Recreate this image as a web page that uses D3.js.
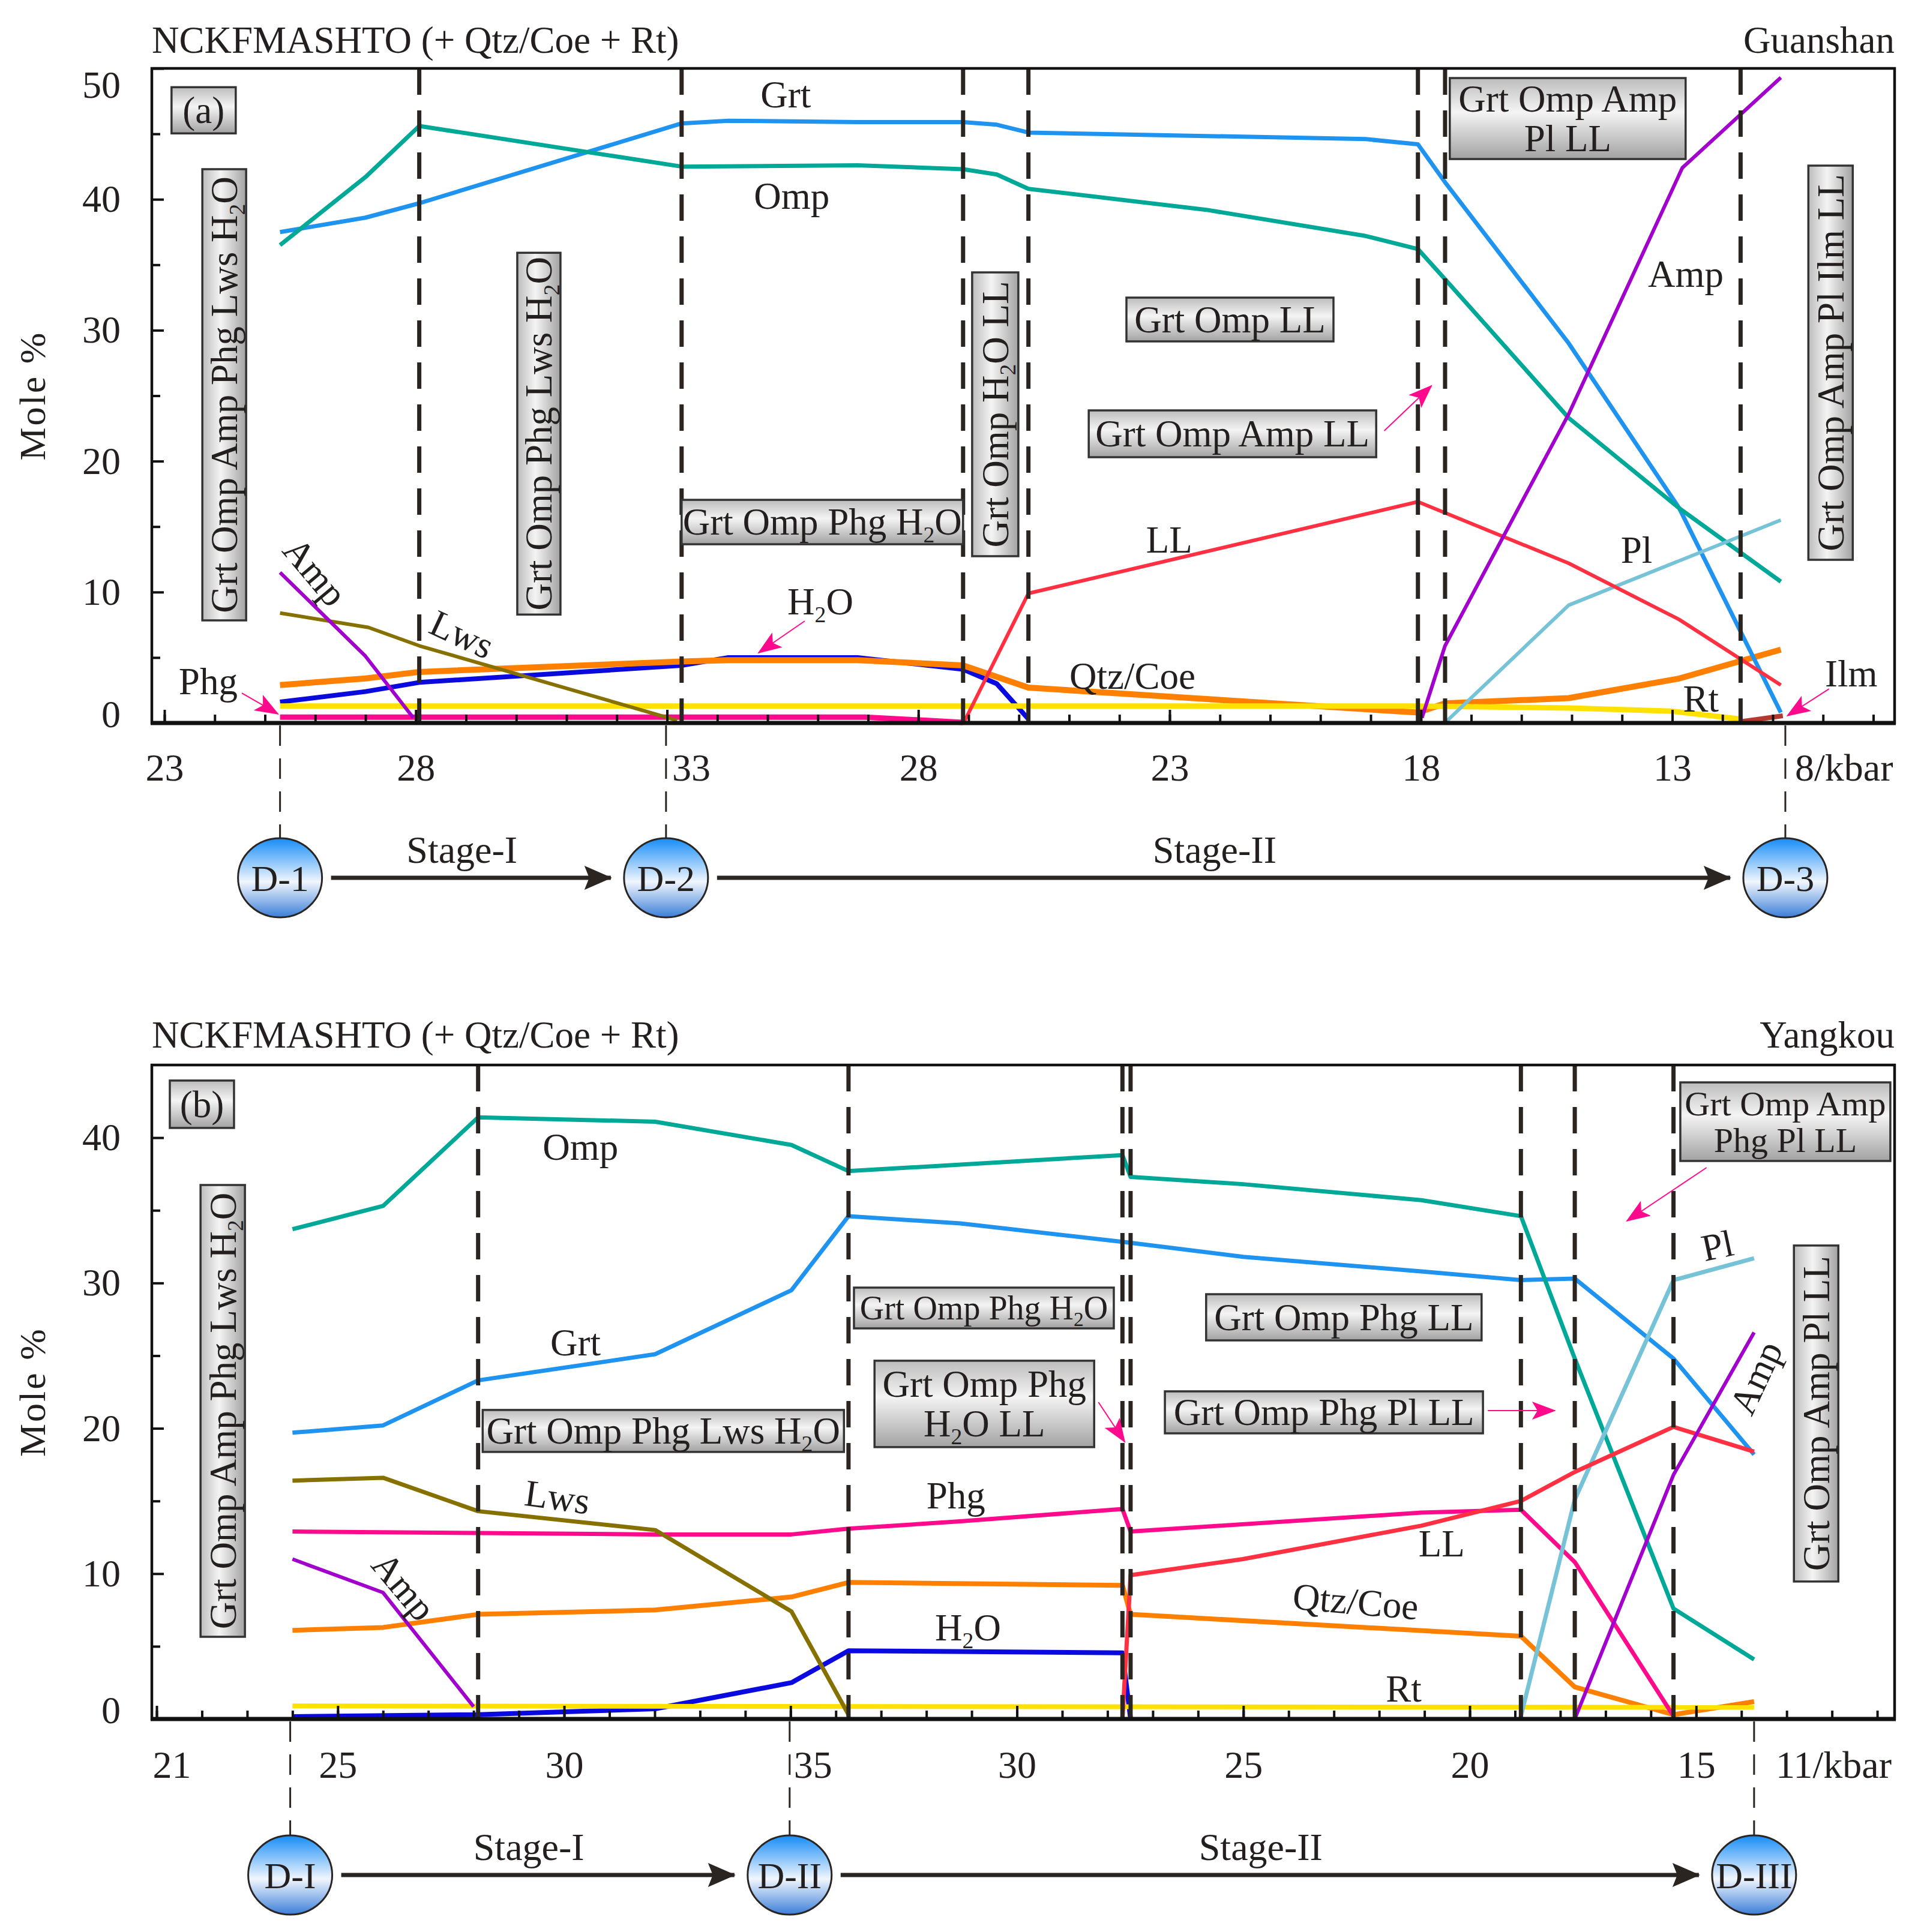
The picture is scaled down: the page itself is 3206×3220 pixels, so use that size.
<!DOCTYPE html>
<html>
<head>
<meta charset="utf-8">
<title>Mole % along the P path</title>
<script src="https://cdn.jsdelivr.net/npm/d3@7/dist/d3.min.js"></script>
<style>
  body { margin: 0; background: #fff; }
  text { font-family: "Liberation Serif", "Times New Roman", serif; fill: #231f1e; }
</style>
</head>
<body>
<svg id="chart" width="3206" height="3220"></svg>
<script>
// x = distance travelled along the pressure path (kbar), y = mole %

// ---- (a) Guanshan ----
const ticksA = ['23', '28', '33', '28', '23', '18', '13'];
const ticksAU = [0, 5, 10, 15, 20, 25, 30];
const boundsA = [5.07, 10.29, 15.89, 17.19, 24.94, 25.48, 31.36];
const stagesA = ['D-1', 'D-2', 'D-3'];
const stagesAU = [2.3, 9.98, 32.25];

const grtA = [[2.3, 37.5], [4.0, 38.6], [5.07, 39.7], [10.29, 45.8], [11.22, 46.0], [13.79, 45.9], [15.89, 45.9], [16.56, 45.7], [17.19, 45.1], [23.9, 44.6], [24.94, 44.2], [25.48, 41.3], [27.94, 29.0], [30.14, 16.4], [32.16, 0.8]];
const ompA = [[2.3, 36.5], [4.0, 41.7], [5.07, 45.6], [10.29, 42.5], [13.79, 42.6], [15.89, 42.3], [16.56, 41.9], [17.19, 40.8], [20.73, 39.2], [23.9, 37.2], [24.94, 36.2], [25.48, 33.9], [27.94, 23.3], [30.14, 16.4], [32.16, 10.8]];
const llA = [[15.9, 0], [17.19, 9.9], [24.94, 16.9], [27.94, 12.2], [30.14, 7.9], [32.16, 2.9]];
const ampA = [[2.3, 11.5], [4.0, 5.1], [4.95, 0.4], null, [25.02, 0.4], [25.48, 5.9], [27.94, 23.6], [30.2, 42.4], [32.16, 49.3]];
const plA = [[25.5, 0.1], [27.94, 9.0], [32.16, 15.5]];
const qtzA = [[2.3, 2.9], [4.0, 3.4], [5.07, 3.9], [10.29, 4.7], [11.22, 4.8], [13.79, 4.8], [15.89, 4.4], [17.19, 2.7], [24.94, 0.8], [25.48, 1.5], [27.94, 1.9], [30.14, 3.4], [32.16, 5.6]];
const h2oA = [[2.3, 1.6], [4.0, 2.4], [5.07, 3.1], [10.29, 4.4], [11.22, 5.0], [13.79, 5.0], [15.89, 4.1], [16.56, 3.0], [17.19, 0.3]];
const phgA = [[2.3, 0.45], [13.94, 0.45], [15.89, 0.05]];
const lwsA = [[2.3, 8.4], [4.06, 7.3], [5.07, 5.9], [10.2, 0.2]];
const rtA = [[2.3, 1.3], [24.94, 1.3], [27.94, 1.15], [30.0, 0.9], [31.36, 0.3]];
const ilmA = [[31.36, 0.1], [32.2, 0.55]];

// ---- (b) Yangkou ----
const ticksB = ['21', '25', '30', '35', '30', '25', '20', '15'];
const ticksBU = [0, 4, 9, 14, 19, 24, 29, 34];
const boundsB = [7.1, 15.28, 21.33, 21.51, 30.13, 31.32, 33.5];
const stagesB = ['D-I', 'D-II', 'D-III'];
const stagesBU = [2.95, 13.98, 35.28];

const ompB = [[3.0, 33.7], [5.0, 35.3], [7.1, 41.4], [11.01, 41.1], [14.02, 39.5], [15.28, 37.7], [21.33, 38.8], [21.51, 37.3], [23.99, 36.8], [27.93, 35.7], [30.13, 34.6], [31.32, 24.8], [33.5, 7.6], [35.28, 4.1]];
const grtB = [[3.0, 19.7], [5.0, 20.2], [7.1, 23.3], [11.01, 25.1], [14.02, 29.5], [15.28, 34.6], [17.75, 34.1], [21.42, 32.8], [24.0, 31.8], [27.93, 30.8], [30.13, 30.2], [31.32, 30.3], [33.5, 24.8], [35.28, 18.2]];
const lwsB = [[3.0, 16.4], [5.0, 16.6], [7.1, 14.3], [11.01, 13.0], [14.02, 7.4], [15.28, 0.3]];
const phgB = [[3.0, 12.9], [7.1, 12.8], [11.01, 12.7], [14.02, 12.7], [15.28, 13.1], [17.75, 13.6], [21.33, 14.45], [21.51, 12.9], [27.93, 14.2], [30.13, 14.4], [31.32, 10.8], [33.5, 0.2]];
const ampB = [[3.0, 11.0], [5.0, 8.7], [7.0, 0.85], null, [31.32, 0], [33.5, 16.8], [35.28, 26.6]];
const qtzB = [[3.0, 6.1], [5.0, 6.3], [7.1, 7.2], [11.01, 7.5], [14.02, 8.4], [15.28, 9.4], [21.33, 9.2], [21.51, 7.2], [30.13, 5.7], [31.32, 2.2], [33.5, 0.3], [35.28, 1.2]];
const h2oB = [[3.0, 0.17], [7.1, 0.3], [11.01, 0.7], [14.02, 2.5], [15.28, 4.7], [21.33, 4.55], [21.51, 0]];
const llB = [[21.33, 0], [21.51, 9.9], [23.99, 11.0], [27.93, 13.3], [30.13, 15.0], [31.32, 17.0], [33.5, 20.1], [35.28, 18.4]];
const plB = [[30.13, 0.2], [31.32, 15.1], [33.5, 30.2], [35.28, 31.7]];
const rtB = [[3.0, 0.9], [35.28, 0.8]];

// ---- styling ----
const colors = {
  Grt: '#1f93f0', Omp: '#00a997', LL: '#ff3041', Amp: '#a100cd', Pl: '#76c2d6',
  Qtz: '#ff8000', H2O: '#0a0ae0', Phg: '#ff0a8c', Lws: '#867100', Rt: '#ffe100', Ilm: '#b43a30'
};
const widthA = { Grt: 7, Omp: 7, LL: 6, Amp: 6, Pl: 6, Qtz: 10, H2O: 8, Phg: 9, Lws: 6, Rt: 9, Ilm: 8 };
const widthB = { Grt: 7, Omp: 7, LL: 7, Amp: 6, Pl: 7, Qtz: 8, H2O: 8, Phg: 7, Lws: 7, Rt: 8 };
const DARK = '#2b2522', PINK = '#ff0a8c';

const svg = d3.select('#chart');
svg.append('rect').attr('width', 3206).attr('height', 3220).attr('fill', '#fff');
const defs = svg.append('defs');

const boxGrad = defs.append('linearGradient').attr('id', 'boxg').attr('x1', 0).attr('y1', 0).attr('x2', 0).attr('y2', 1);
[[0, '#bcbcbc'], [0.42, '#f4f4f4'], [1, '#a2a2a2']].forEach(([o, c]) => boxGrad.append('stop').attr('offset', o).attr('stop-color', c));
const ballGrad = defs.append('linearGradient').attr('id', 'ballg').attr('x1', 0).attr('y1', 0).attr('x2', 0).attr('y2', 1);
[[0, '#168cf7'], [0.55, '#f1f6fd'], [1, '#3b7ed8']].forEach(([o, c]) => ballGrad.append('stop').attr('offset', o).attr('stop-color', c));

defs.append('marker').attr('id', 'pinkHead').attr('markerUnits', 'userSpaceOnUse')
  .attr('viewBox', '0 0 40 30').attr('refX', 38).attr('refY', 15)
  .attr('markerWidth', 40).attr('markerHeight', 30).attr('orient', 'auto')
  .append('path').attr('d', 'M0,0L40,15L0,30L9,15Z').attr('fill', PINK);
defs.append('marker').attr('id', 'darkHead').attr('markerUnits', 'userSpaceOnUse')
  .attr('viewBox', '0 0 46 40').attr('refX', 44).attr('refY', 20)
  .attr('markerWidth', 46).attr('markerHeight', 40).attr('orient', 'auto')
  .append('path').attr('d', 'M0,0L46,20L0,40L8,20Z').attr('fill', DARK);

// "H_2O" -> H, subscript 2, O
function rich(t, str, fs) {
  str.split(/_(\d)/).forEach((part, i) => {
    if (!part) return;
    if (i % 2) t.append('tspan').attr('font-size', fs * 0.6).attr('dy', fs * 0.2).text(part);
    else t.append('tspan').attr('dy', i ? -fs * 0.2 : null).text(part);
  });
}

function drawPanel(p) {
  const g = svg.append('g');
  const x = d3.scaleLinear().domain([0, 1]).range([p.x0, p.x0 + p.unit]);
  const y = d3.scaleLinear().domain([0, p.ymax]).range([p.bottom, p.top]);

  // titles
  g.append('text').attr('x', p.left).attr('y', p.titleY).attr('font-size', 63).text('NCKFMASHTO (+ Qtz/Coe + Rt)');
  g.append('text').attr('x', p.right).attr('y', p.titleY).attr('font-size', 63).attr('text-anchor', 'end').text(p.site);
  g.append('text').attr('transform', `translate(75,${(p.top + p.bottom) / 2}) rotate(-90)`)
    .attr('font-size', 62).attr('text-anchor', 'middle').attr('letter-spacing', 3).text('Mole %');

  // series
  const line = d3.line().defined(d => d).x(d => x(d[0])).y(d => y(d[1]));
  g.append('g').selectAll('path').data(p.series).join('path')
    .attr('d', d => line(d[1])).attr('fill', 'none')
    .attr('stroke', d => colors[d[0]]).attr('stroke-width', d => p.widths[d[0]])
    .attr('stroke-linejoin', 'round');

  // phase-field boundaries
  g.append('g').selectAll('line').data(p.bounds).join('line')
    .attr('x1', d => x(d)).attr('x2', d => x(d)).attr('y1', p.top).attr('y2', p.bottom)
    .attr('stroke', DARK).attr('stroke-width', 7).attr('stroke-dasharray', '44 26');

  // frame
  g.append('rect').attr('x', p.left).attr('y', p.top).attr('width', p.right - p.left).attr('height', p.bottom - p.top)
    .attr('fill', 'none').attr('stroke', '#111').attr('stroke-width', 4.5);
  g.append('line').attr('x1', p.left - 2).attr('x2', p.right + 2).attr('y1', p.bottom).attr('y2', p.bottom)
    .attr('stroke', '#111').attr('stroke-width', 7);

  const tickStyle = s => {
    s.select('.domain').remove();
    s.selectAll('.tick line').attr('stroke', '#111').attr('stroke-width', 4);
    s.attr('font-family', null).attr('font-size', 64);
    s.selectAll('.tick text').attr('fill', '#231f1e');
  };
  // x ticks (inward)
  g.append('g').attr('transform', `translate(0,${p.bottom})`)
    .call(d3.axisBottom(x).tickValues(d3.range(0, p.nMinorX + 1)).tickSize(-14).tickFormat('')).call(tickStyle);
  g.append('g').attr('transform', `translate(0,${p.bottom})`)
    .call(d3.axisBottom(x).tickValues(p.ticksU).tickSize(-22).tickFormat('')).call(tickStyle);
  g.append('g').attr('transform', `translate(0,${p.bottom})`)
    .call(d3.axisBottom(x).tickValues(p.ticksU).tickSize(0).tickPadding(p.labelPad).tickFormat((d, i) => p.ticks[i]))
    .call(tickStyle)
    .call(s => s.selectAll('.tick text').attr('dx', (d, i) => p.labelNudge[i] || 0));
  g.append('text').attr('x', x(p.stagesU[2]) + p.endGap).attr('y', p.bottom + p.labelPad + 45)
    .attr('font-size', 64).text(p.endLabel);

  // y ticks (inward)
  g.append('g').attr('transform', `translate(${p.left},0)`)
    .call(d3.axisLeft(y).tickValues(d3.range(5, p.ymax, 10)).tickSize(-14).tickFormat('')).call(tickStyle);
  g.append('g').attr('transform', `translate(${p.left},0)`)
    .call(d3.axisLeft(y).tickValues(d3.range(0, p.ymax + 1, 10)).tickSize(-20).tickPadding(52).tickFormat(d3.format('d')))
    .call(tickStyle)
    .call(s => s.selectAll('.tick text').attr('dy', d => d === 0 ? '0.1em' : d === 50 ? '0.75em' : '0.32em'));

  // grey phase-field boxes
  p.boxes.forEach(b => {
    const fs = b.fs || 63;
    const bg = g.append('g').attr('transform', `translate(${x(b.u)},${y(b.v)})` + (b.rot ? ' rotate(-90)' : ''));
    const L = b.rot ? b.h : b.w, T = b.rot ? b.w : b.h;
    bg.append('rect').attr('x', -L / 2).attr('y', -T / 2).attr('width', L).attr('height', T)
      .attr('fill', 'url(#boxg)').attr('stroke', '#333').attr('stroke-width', 3.5);
    b.t.forEach((ln, i) => {
      const off = (i - (b.t.length - 1) / 2) * fs * 1.05;
      rich(bg.append('text').attr('x', 0).attr('y', off + fs * 0.34).attr('font-size', fs).attr('text-anchor', 'middle'), ln, fs);
    });
  });

  // pink pointer arrows
  g.append('g').selectAll('line').data(p.arrows).join('line')
    .attr('x1', d => x(d[0])).attr('y1', d => y(d[1])).attr('x2', d => x(d[2])).attr('y2', d => y(d[3]))
    .attr('stroke', PINK).attr('stroke-width', 2).attr('marker-end', 'url(#pinkHead)');

  // line labels
  p.labels.forEach(l => {
    const t = g.append('text').attr('transform', `translate(${x(l.u)},${y(l.v)}) rotate(${l.r || 0})`)
      .attr('y', 63 * 0.34).attr('font-size', 63).attr('text-anchor', 'middle');
    rich(t, l.t, 63);
  });

  // stage markers below the axis
  const cy = p.circleY, ry = 66, rx = 70;
  g.append('g').selectAll('line').data(p.stagesU).join('line')
    .attr('x1', d => x(d)).attr('x2', d => x(d)).attr('y1', p.bottom + 4).attr('y2', cy - ry)
    .attr('stroke', DARK).attr('stroke-width', 3).attr('stroke-dasharray', '34 21');
  for (let i = 0; i < 2; i++) {
    const x1 = x(p.stagesU[i]) + rx + 15, x2 = x(p.stagesU[i + 1]) - rx - 22;
    g.append('line').attr('x1', x1).attr('x2', x2).attr('y1', cy).attr('y2', cy)
      .attr('stroke', DARK).attr('stroke-width', 7).attr('marker-end', 'url(#darkHead)');
    g.append('text').attr('x', (x1 + x2) / 2 - 15).attr('y', p.stageY).attr('font-size', 64)
      .attr('text-anchor', 'middle').text(i ? 'Stage-II' : 'Stage-I');
  }
  const balls = g.append('g').selectAll('g').data(p.stagesU).join('g')
    .attr('transform', d => `translate(${x(d)},${cy})`);
  balls.append('ellipse').attr('rx', rx).attr('ry', ry).attr('fill', 'url(#ballg)').attr('stroke', DARK).attr('stroke-width', 3);
  balls.append('text').attr('y', 22).attr('font-size', 62).attr('text-anchor', 'middle').text((d, i) => p.stages[i]);
}

drawPanel({
  site: 'Guanshan', left: 253, right: 3157, top: 114, bottom: 1205, x0: 274, unit: 83.75, ymax: 50,
  titleY: 88, labelPad: 51, circleY: 1463, stageY: 1438, nMinorX: 34, endGap: 16,
  ticks: ticksA, ticksU: ticksAU, labelNudge: [0, 0, 40, 0, 0, 0, 0], endLabel: '8/kbar',
  bounds: boundsA, stages: stagesA, stagesU: stagesAU, widths: widthA,
  series: [['H2O', h2oA], ['Qtz', qtzA], ['Rt', rtA], ['Phg', phgA], ['Lws', lwsA], ['Grt', grtA], ['Omp', ompA],
           ['Pl', plA], ['LL', llA], ['Amp', ampA], ['Ilm', ilmA]],
  boxes: [
    { t: ['(a)'], u: 0.78, v: 46.8, w: 107, h: 77 },
    { t: ['Grt Omp Amp Phg Lws H_2O'], u: 1.19, v: 25.07, w: 73, h: 752, rot: true },
    { t: ['Grt Omp Phg Lws H_2O'], u: 7.45, v: 22.1, w: 72, h: 603, rot: true },
    { t: ['Grt Omp Phg H_2O'], u: 13.09, v: 15.35, w: 469, h: 74 },
    { t: ['Grt Omp H_2O LL'], u: 16.53, v: 23.58, w: 77, h: 473, rot: true },
    { t: ['Grt Omp LL'], u: 21.2, v: 30.82, w: 345, h: 73 },
    { t: ['Grt Omp Amp LL'], u: 21.25, v: 22.09, w: 479, h: 78 },
    { t: ['Grt Omp Amp', 'Pl LL'], u: 27.92, v: 46.17, w: 393, h: 135 },
    { t: ['Grt Omp Amp Pl Ilm LL'], u: 33.15, v: 27.52, w: 74, h: 657, rot: true }
  ],
  arrows: [[1.54, 2.29, 2.26, 0.69], [12.74, 7.79, 11.82, 5.36], [24.27, 22.32, 25.21, 25.76], [33.12, 2.61, 32.29, 0.55]],
  labels: [
    { t: 'Grt', u: 12.36, v: 47.98 }, { t: 'Omp', u: 12.48, v: 40.28 }, { t: 'Amp', u: 3.0, v: 11.55, r: 50 },
    { t: 'Lws', u: 5.92, v: 6.78, r: 25 }, { t: 'Phg', u: 0.87, v: 3.2 }, { t: 'H_2O', u: 13.05, v: 9.26 },
    { t: 'LL', u: 19.99, v: 13.98 }, { t: 'Qtz/Coe', u: 19.26, v: 3.6 }, { t: 'Amp', u: 30.27, v: 34.3 },
    { t: 'Pl', u: 29.29, v: 13.2 }, { t: 'Rt', u: 30.57, v: 1.83 }, { t: 'Ilm', u: 33.56, v: 3.76 }
  ]
});

drawPanel({
  site: 'Yangkou', left: 253, right: 3157, top: 1775, bottom: 2865, x0: 261, unit: 75.45, ymax: 45,
  titleY: 1746, labelPad: 53, circleY: 3125, stageY: 3100, nMinorX: 38, endGap: 36,
  ticks: ticksB, ticksU: ticksBU, labelNudge: [25, 0, 0, 37, 0, 0, 0, 0], endLabel: '11/kbar',
  bounds: boundsB, stages: stagesB, stagesU: stagesBU, widths: widthB,
  series: [['H2O', h2oB], ['Qtz', qtzB], ['Rt', rtB], ['Phg', phgB], ['Lws', lwsB], ['Grt', grtB], ['Omp', ompB],
           ['Pl', plB], ['LL', llB], ['Amp', ampB]],
  boxes: [
    { t: ['(b)'], u: 1.0, v: 42.3, w: 107, h: 79 },
    { t: ['Grt Omp Amp Phg Lws H_2O'], u: 1.46, v: 21.2, w: 74, h: 753, rot: true },
    { t: ['Grt Omp Phg Lws H_2O'], u: 11.19, v: 19.82, w: 602, h: 70 },
    { t: ['Grt Omp Phg H_2O'], u: 18.27, v: 28.28, w: 433, h: 68, fs: 56 },
    { t: ['Grt Omp Phg', 'H_2O LL'], u: 18.28, v: 21.68, w: 366, h: 144 },
    { t: ['Grt Omp Phg LL'], u: 26.22, v: 27.64, w: 459, h: 77 },
    { t: ['Grt Omp Phg Pl LL'], u: 25.78, v: 21.1, w: 530, h: 70 },
    { t: ['Grt Omp Amp', 'Phg Pl LL'], u: 35.97, v: 41.1, w: 350, h: 131, fs: 58 },
    { t: ['Grt Omp Amp Pl LL'], u: 36.65, v: 21.02, w: 74, h: 560, rot: true }
  ],
  arrows: [[20.8, 21.8, 21.38, 19.07], [29.4, 21.22, 30.88, 21.22], [34.23, 37.94, 32.47, 34.27]],
  labels: [
    { t: 'Omp', u: 9.36, v: 39.35 }, { t: 'Grt', u: 9.25, v: 25.89 }, { t: 'Lws', u: 8.85, v: 15.28, r: 8 },
    { t: 'Amp', u: 5.46, v: 9.12, r: 50 }, { t: 'Phg', u: 17.65, v: 15.36 }, { t: 'H_2O', u: 17.92, v: 6.28 },
    { t: 'LL', u: 28.38, v: 12.06 }, { t: 'Qtz/Coe', u: 26.48, v: 8.09, r: 5 }, { t: 'Rt', u: 27.54, v: 2.1 },
    { t: 'Pl', u: 34.47, v: 32.58, r: -12 }, { t: 'Amp', u: 35.32, v: 23.49, r: -65 }
  ]
});
</script>
</body>
</html>
